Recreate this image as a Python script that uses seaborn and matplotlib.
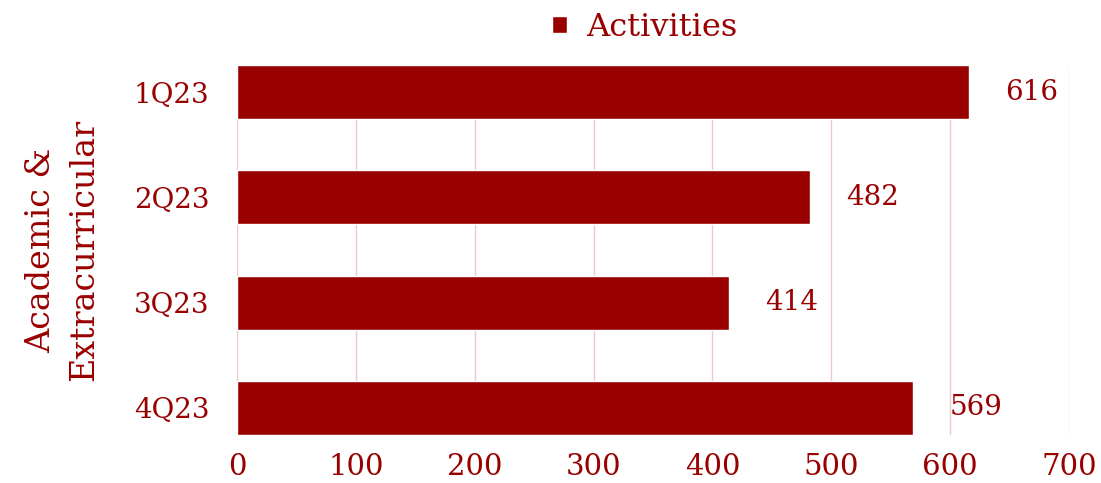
import matplotlib
matplotlib.use("Agg")
import matplotlib.pyplot as plt
import seaborn as sns
import pandas as pd

quarters = ["1Q23", "2Q23", "3Q23", "4Q23"]
activities = [616, 482, 414, 569]
x_ticks = [0, 100, 200, 300, 400, 500, 600, 700]
series_name = "Activities"
axis_title = "Academic &\nExtracurricular"

RED = "#990000"
GRID = "#ebcacc"

sns.set_theme(style="white")
plt.rcParams["font.family"] = ["DejaVu Serif", "DejaVu Sans"]

df = pd.DataFrame({"quarter": quarters, "value": activities})

fig = plt.figure(figsize=(11.01, 4.83), dpi=100)
ax = fig.add_axes([237 / 1101, 1 - 435 / 483, (1069 - 237) / 1101, (435 - 65) / 483])

sns.barplot(data=df, x="value", y="quarter", color=RED, saturation=1,
            width=0.513, label=series_name, ax=ax, zorder=3)

ax.set_xlim(0, 700)
ax.set_ylim(3 + 0.2565, -0.2565)
ax.set_xticks(x_ticks)
ax.set_xticklabels([str(t) for t in x_ticks])
for t in x_ticks:
    ax.axvline(t, color=GRID, lw=1.0, zorder=1)

for s in ax.spines.values():
    s.set_visible(False)

ax.tick_params(axis="x", length=0, pad=13, labelsize=21, labelcolor=RED)
ax.tick_params(axis="y", length=0, pad=20, labelsize=20, labelcolor=RED)
ax.set_xlabel("")
ax.set_ylabel(axis_title, color=RED, fontsize=24, labelpad=24, linespacing=1.45)

for i, v in enumerate(activities):
    ax.annotate(str(v), xy=(v, i), xytext=(36, 0), textcoords="offset pixels",
                ha="left", va="center", color=RED, fontsize=20)

leg = ax.legend(loc="center", bbox_to_anchor=(0.49, 1 + 38 / 370), frameon=False,
                fontsize=23, handlelength=0.45, handleheight=0.45, handletextpad=0.6)
for txt in leg.get_texts():
    txt.set_color(RED)

fig.savefig("out.png", dpi=100)
